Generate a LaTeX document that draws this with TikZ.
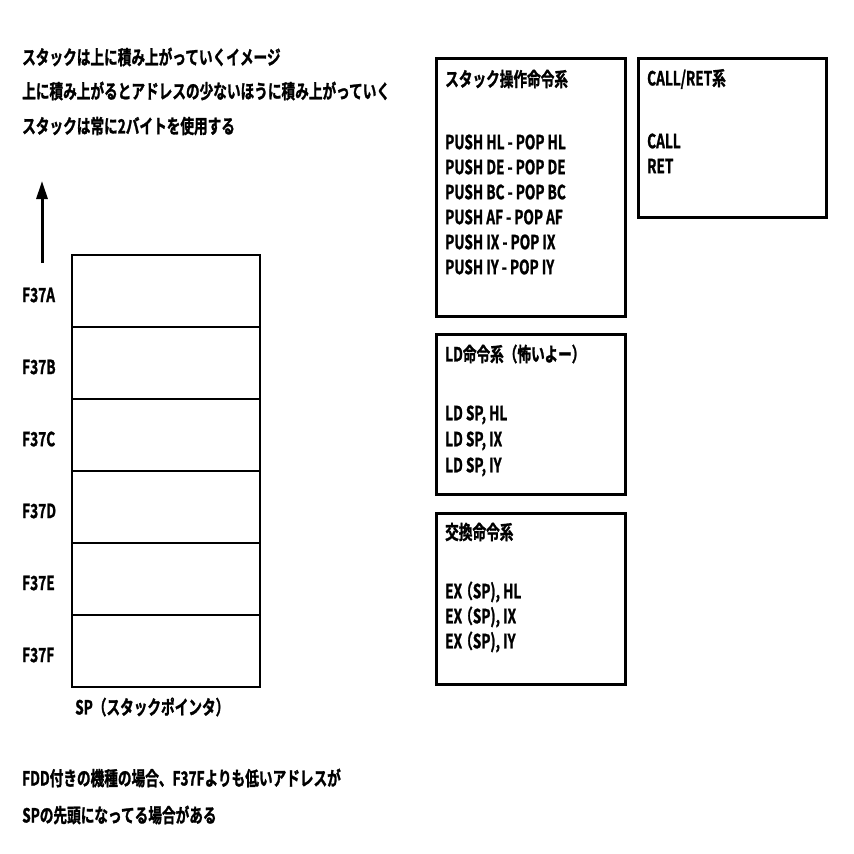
\documentclass[tikz,border=0pt]{standalone}
\usepackage{fontspec}
\setmainfont{Noto Sans CJK JP}[FakeStretch=0.70,BoldFont={Noto Sans CJK JP Bold},BoldFeatures={FakeStretch=0.70,FakeBold=1.3}]
\usetikzlibrary{arrows.meta}
\tikzset{
  txt/.style={anchor=west,inner sep=0pt,font=\fontsize{19.5}{21}\selectfont\bfseries},
  cell/.style={draw,line width=1.6pt,minimum width=188pt,minimum height=72pt,inner sep=0pt},
  panel/.style={draw,line width=3pt,anchor=north west,inner sep=0pt},
}
\begin{document}
\begin{tikzpicture}[x=1pt,y=-1pt]
\useasboundingbox (0,0) rectangle (854,854);
% top notes
\node[txt] (n1) at (22,57) {スタックは上に積み上がっていくイメージ};
\node[txt] (n2) at (22,91) {上に積み上がるとアドレスの少ないほうに積み上がっていく};
\node[txt] (n3) at (22,126) {スタックは常に2バイトを使用する};
% arrow
\coordinate (as) at (42,263);
\coordinate (ae) at (42,181);
\draw[line width=3pt,-{Triangle[length=18pt,width=11pt]}] (as) -- (ae);
% stack cells
\node[cell] (c1) at (166,291) {};
\node[cell] (c2) at (166,363) {};
\node[cell] (c3) at (166,435) {};
\node[cell] (c4) at (166,507) {};
\node[cell] (c5) at (166,579) {};
\node[cell] (c6) at (166,651) {};
\node[txt] (l1) at (22,295) {F37A};
\node[txt] (l2) at (22,367) {F37B};
\node[txt] (l3) at (22,439) {F37C};
\node[txt] (l4) at (22,511) {F37D};
\node[txt] (l5) at (22,583) {F37E};
\node[txt] (l6) at (22,655) {F37F};
\node[txt] (sp) at (75,707) {SP（スタックポインタ）};
% bottom notes
\node[txt] (b1) at (22,778) {FDD付きの機種の場合、F37Fよりも低いアドレスが};
\node[txt] (b2) at (22,815) {SPの先頭になってる場合がある};
% panel 1
\node[panel,minimum width=189pt,minimum height=258pt] (p1) at (435,57) {};
\node[txt] (p1t) at (445,79) {スタック操作命令系};
\node[txt] (p1a) at (445,142) {PUSH HL - POP HL};
\node[txt] (p1b) at (445,167) {PUSH DE - POP DE};
\node[txt] (p1c) at (445,192) {PUSH BC - POP BC};
\node[txt] (p1d) at (445,217) {PUSH AF - POP AF};
\node[txt] (p1e) at (445,242) {PUSH IX - POP IX};
\node[txt] (p1f) at (445,267) {PUSH IY - POP IY};
% panel 2
\node[panel,minimum width=188pt,minimum height=159pt] (p2) at (637,57) {};
\node[txt] (p2t) at (647,79) {CALL/RET系};
\node[txt] (p2a) at (647,141) {CALL};
\node[txt] (p2b) at (647,166) {RET};
% panel 3
\node[panel,minimum width=189pt,minimum height=160pt] (p3) at (435,333) {};
\node[txt] (p3t) at (445,354) {LD命令系（怖いよー）};
\node[txt] (p3a) at (445,415) {LD SP, HL};
\node[txt] (p3b) at (445,441) {LD SP, IX};
\node[txt] (p3c) at (445,467) {LD SP, IY};
% panel 4
\node[panel,minimum width=189pt,minimum height=171pt] (p4) at (435,512) {};
\node[txt] (p4t) at (445,532) {交換命令系};
\node[txt] (p4a) at (445,592) {EX\kern-3pt（SP), HL};
\node[txt] (p4b) at (445,617) {EX\kern-3pt（SP), IX};
\node[txt] (p4c) at (445,642) {EX\kern-3pt（SP), IY};
\end{tikzpicture}
\end{document}
